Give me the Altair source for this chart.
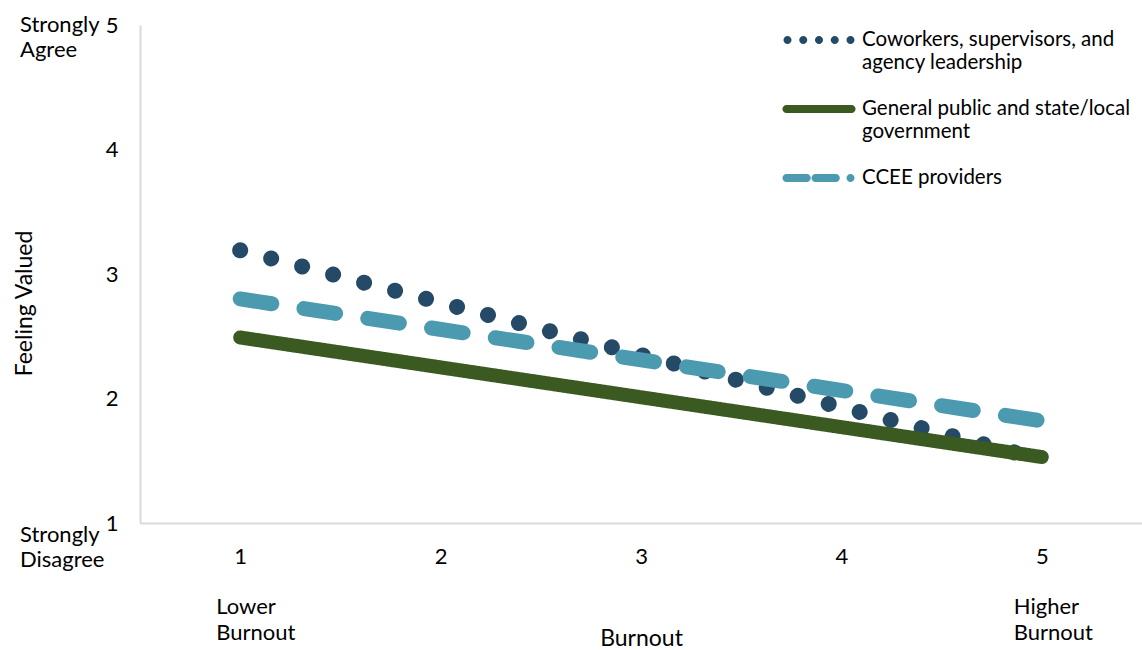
import altair as alt
import pandas as pd

# Fitted lines: feeling valued by burnout level, one line per source
series = [
    "Coworkers, supervisors, and agency leadership",
    "General public and state/local government",
    "CCEE providers",
]
legend_lines = [
    ["Coworkers, supervisors, and", "agency leadership"],
    ["General public and state/local", "government"],
    ["CCEE providers"],
]
burnout = [1, 5]
coworkers = [3.19, 1.51]
public_gov = [2.49, 1.53]
ccee = [2.80, 1.82]

colors = ["#254a67", "#3a5a22", "#4c9ab0"]


def circle(cx, r):
    return (f"M{cx - r},0 A{r},{r} 0 1,0 {cx + r},0 "
            f"A{r},{r} 0 1,0 {cx - r},0 Z")


def pill(x0, x1, r):
    return (f"M{x0},{-r} L{x1},{-r} A{r},{r} 0 0,1 {x1},{r} "
            f"L{x0},{r} A{r},{r} 0 0,1 {x0},{-r} Z")


# Legend glyphs in symbol units ([-1, 1] spans the symbol width)
R = 0.115
legend_shapes = [
    " ".join(circle(c, R) for c in [-0.9, -0.45, 0.0, 0.45, 0.9]),
    pill(-0.93, 0.93, R),
    pill(-0.93, -0.35, R) + " " + pill(-0.1, 0.48, R) + " " + circle(0.9, R),
]

rows = []
for name, vals in zip(series, [coworkers, public_gov, ccee]):
    for b, v in zip(burnout, vals):
        rows.append({"series": name, "burnout": b, "valued": v})
df = pd.DataFrame(rows)

FONT = "Lato"
W, H = 1002, 498
TXT = 22

x = alt.X("burnout:Q", scale=alt.Scale(domain=[0.5, 5.5], nice=False, zero=False),
          axis=alt.Axis(title="Burnout", values=[1, 2, 3, 4, 5], format="d",
                        grid=False, ticks=False, labelPadding=23,
                        titleY=115, titleBaseline="middle"))
y = alt.Y("valued:Q", scale=alt.Scale(domain=[1, 5], nice=False, zero=False),
          axis=alt.Axis(title="Feeling Valued", values=[1, 2, 3, 4, 5], format="d",
                        grid=False, ticks=False, labelPadding=22,
                        titleX=-116, titleY=278, titleBaseline="middle", titleAngle=270))

base = alt.Chart(df)


def series_line(i, dash, width):
    return base.transform_filter(alt.datum.series == series[i]).mark_line(
        color=colors[i], strokeWidth=width, strokeCap="round", strokeDash=dash
    ).encode(x=x, y=y)


dotted = series_line(0, [0.01, 32], 16)
solid = series_line(1, [1, 0], 14)
dashed = series_line(2, [32, 32.5], 15)

label_expr = " : ".join(
    f"datum.label == '{s}' ? {lines!r}" for s, lines in zip(series[:-1], legend_lines[:-1])
) + f" : {legend_lines[-1]!r}"

# Empty layer that only carries the legend
legend_layer = base.transform_filter("false").mark_point(
    filled=True, opacity=1
).encode(
    x=x, y=y,
    color=alt.Color("series:N", scale=alt.Scale(domain=series, range=colors),
                    legend=alt.Legend(title=None, orient="none", legendX=643, legendY=-21,
                                      symbolSize=4900, symbolOpacity=1,
                                      labelExpr=label_expr,
                                      labelLimit=400, labelFontSize=20.5,
                                      labelFont=FONT, labelColor="#000000",
                                      labelOffset=7, rowPadding=-3)),
    shape=alt.Shape("series:N", scale=alt.Scale(domain=series, range=legend_shapes),
                    legend=alt.Legend(title=None)),
)


def note(value_x, value_y, lines, dx=0, dy=0, lh=26):
    d = pd.DataFrame({"t": [lines]})
    enc = {"text": "t:N"}
    enc["x"] = alt.X(datum=value_x) if value_x is not None else alt.value(-120)
    enc["y"] = alt.Y(datum=value_y) if value_y is not None else alt.value(582)
    return alt.Chart(d).mark_text(
        align="left", baseline="middle", font=FONT, fontSize=TXT,
        color="#000000", lineHeight=lh, dx=dx, dy=dy
    ).encode(**enc)


lower = note(1, None, ["Lower", "Burnout"], dx=-24)
higher = note(5, None, ["Higher", "Burnout"], dx=-28)
agree = note(None, 5, ["Strongly", "Agree"], lh=25)
disagree = note(None, 1, ["Strongly", "Disagree"], dy=12, lh=25)

chart = alt.layer(dotted, solid, dashed, legend_layer, lower, higher, agree, disagree).properties(
    width=W, height=H,
    autosize=alt.AutoSizeParams(type="none"),
    padding={"left": 140, "top": 25, "right": 0, "bottom": 127},
).configure_view(stroke=None).configure_axis(
    domainColor="#d9d9d9", domainWidth=2,
    labelFont=FONT, labelFontSize=TXT, labelColor="#000000",
    titleFont=FONT, titleFontSize=23, titleFontWeight="normal", titleColor="#000000",
)

chart.save("out.html", embed_options={"renderer": "svg", "actions": False})
